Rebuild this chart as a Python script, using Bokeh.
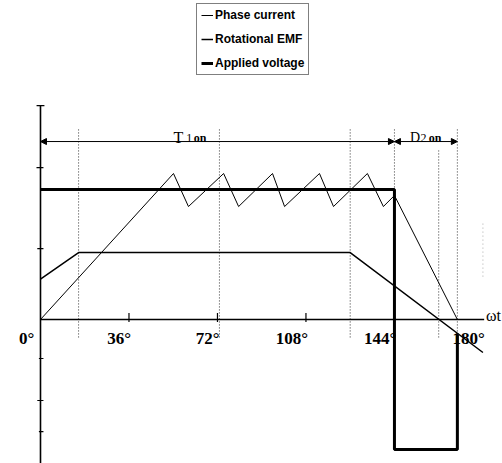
from bokeh.plotting import figure
from bokeh.models import Range1d, Arrow, NormalHead, Legend, LegendItem
from bokeh.core.properties import value
from bokeh.embed import file_html
from bokeh.resources import INLINE

# ---- data (x in electrical degrees, y in per-unit) ----
current_deg = [0, 54.1, 60.2, 74.5, 80.6, 94.4, 99.3, 113.5, 119.2, 133.0, 139.5, 144.0, 169.6]
current_val = [0, 1.123, 0.869, 1.123, 0.869, 1.123, 0.869, 1.123, 0.869, 1.123, 0.869, 0.954, 0]
emf_deg = [0, 15.5, 126, 180]
emf_val = [0.31, 0.515, 0.515, -0.254]
volt_deg = [0, 144, 144, 169.6, 169.6]
volt_val = [1, 1, -1, -1, -0.12]
tick_deg = [0, 36, 72, 108, 144, 180]
tick_labels = ["0°", "36°", "72°", "108°", "144°", "180°"]
guide_deg = [15.5, 72.8, 126, 144, 162, 169.6]
guide_top = [1.477, 1.477, 1.477, 1.477, 1.30, 1.477]
t1_span = [0, 144]
d2_span = [144, 169.6]
ytick_val = [1.169, 0.546, -0.3, -0.623, -0.862]
ytick_len = [4, 3.2, 1.6, 3.2, 1.6]
y_axis_top = 1.646
y_axis_bottom = -1.2
arrow_level = 1.369

p = figure(width=502, height=463, output_backend="svg", toolbar_location=None,
           x_range=Range1d(-16.27, 187.96), y_range=Range1d(-1.1077, 2.454),
           x_axis_location=None, y_axis_location=None, min_border=0)
p.grid.visible = False
p.outline_line_color = None
p.background_fill_color = "white"
p.border_fill_color = "white"

# dotted guide lines
p.segment(x0=guide_deg, y0=[-0.138] * len(guide_deg), x1=guide_deg, y1=guide_top,
          line_color="#333333", line_dash="1 2", line_width=1)
p.segment(x0=[180], y0=[0.33], x1=[180], y1=[0.75], line_color="#aaaaaa",
          line_dash="1 3", line_width=1)

# axes drawn as lines
p.segment(x0=[0], y0=[y_axis_bottom], x1=[0], y1=[y_axis_top], line_color="black", line_width=1.6)
p.segment(x0=[-1.6], y0=[y_axis_top], x1=[1.6], y1=[y_axis_top], line_color="black", line_width=1.2)
p.segment(x0=[0], y0=[0], x1=[180.5], y1=[0], line_color="black", line_width=1.3)
p.segment(x0=[-l / 2.458 for l in ytick_len], y0=ytick_val,
          x1=[1.2] * len(ytick_val), y1=ytick_val, line_color="black", line_width=1.2)
p.segment(x0=tick_deg[1:5], y0=[-0.02] * 4, x1=tick_deg[1:5], y1=[0.05] * 4,
          line_color="black", line_width=1.2)

# tick labels
lab_x = [tick_deg[0] - 2.5] + [d + 0.8 for d in tick_deg[1:]]
p.text(x=lab_x, y=[-0.146] * len(tick_labels), text=tick_labels,
       text_align="right", text_baseline="alphabetic",
       text_font=value("Liberation Serif"), text_font_size="17px",
       text_font_style="bold", text_color="black")
p.text(x=[187.3], y=[0.031], text=["ωt"], text_align="right", text_baseline="alphabetic",
       text_font=value("Liberation Serif"), text_font_size="16px", text_color="black")

# curves
r_volt = p.line(volt_deg, volt_val, line_color="black", line_width=3)
r_emf = p.line(emf_deg, emf_val, line_color="black", line_width=1.5)
r_cur = p.line(current_deg, current_val, line_color="black", line_width=1)

# interval arrows
for span in (t1_span, d2_span):
    p.add_layout(Arrow(start=NormalHead(size=6, fill_color="black", line_color="black", line_width=1),
                       end=NormalHead(size=6, fill_color="black", line_color="black", line_width=1),
                       x_start=span[0], y_start=arrow_level, x_end=span[1], y_end=arrow_level,
                       line_color="black", line_width=1))

# interval labels
serif = value("Liberation Serif")
p.text(x=[54.1], y=[1.4], text=["T"], text_font=serif, text_font_size="16px",
       text_baseline="alphabetic", text_color="black")
p.text(x=[59.3], y=[1.4], text=["1"], text_font=serif, text_font_size="12px",
       text_baseline="alphabetic", text_color="black")
p.text(x=[62.4], y=[1.4], text=["on"], text_font=serif, text_font_size="12px",
       text_font_style="bold", text_baseline="alphabetic", text_color="black")
p.text(x=[150.3], y=[1.4], text=["D"], text_font=serif, text_font_size="14px",
       text_baseline="alphabetic", text_color="black")
p.text(x=[154.6], y=[1.4], text=["2"], text_font=serif, text_font_size="12px",
       text_baseline="alphabetic", text_color="black")
p.text(x=[158.0], y=[1.4], text=["on"], text_font=serif, text_font_size="12px",
       text_font_style="bold", text_baseline="alphabetic", text_color="black")

legend = Legend(items=[LegendItem(label="Phase current", renderers=[r_cur]),
                       LegendItem(label="Rotational EMF", renderers=[r_emf]),
                       LegendItem(label="Applied voltage", renderers=[r_volt])],
                location=(196, 388), margin=0, padding=4, spacing=10,
                glyph_width=12, glyph_height=12, label_height=12, label_standoff=2,
                label_text_font="Liberation Sans", label_text_font_size="12px",
                label_text_font_style="bold", label_text_color="black",
                border_line_color="black", border_line_width=1,
                background_fill_color="white", background_fill_alpha=1)
p.add_layout(legend)

open("out.html", "w").write(file_html(p, INLINE))
